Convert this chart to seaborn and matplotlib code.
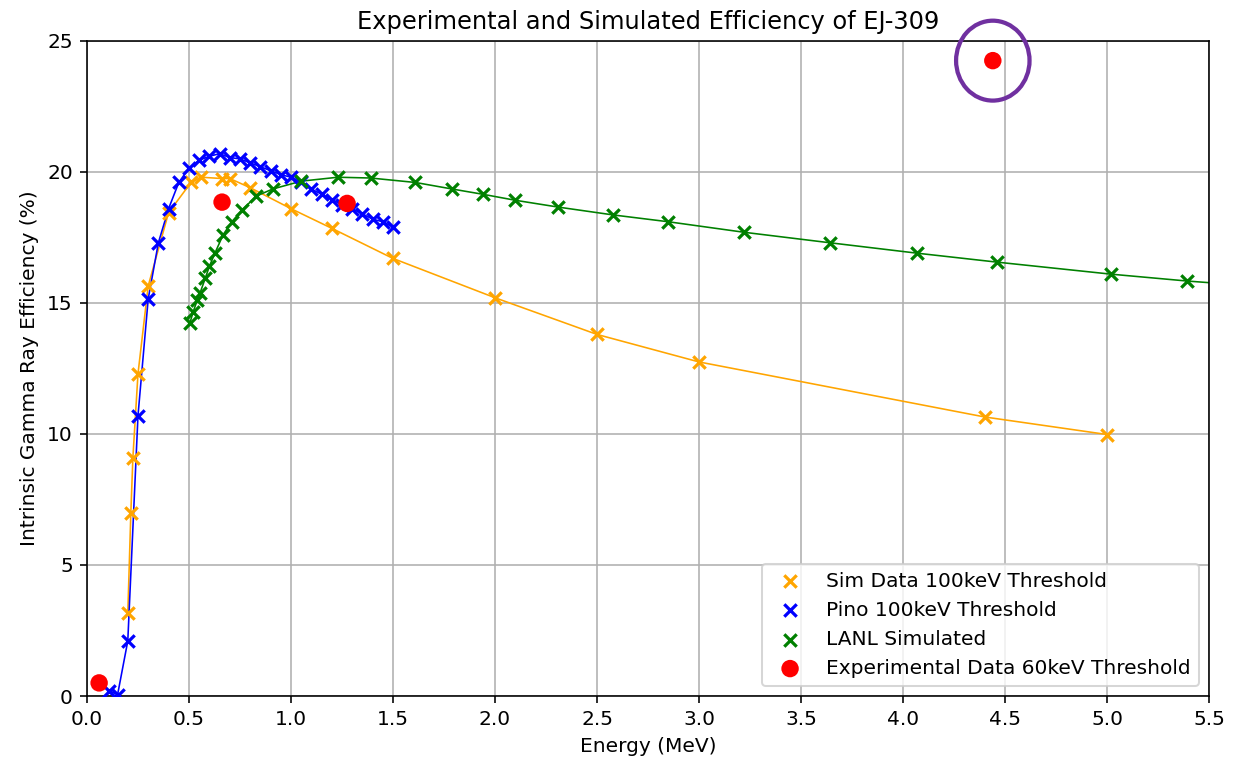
import numpy as np
import pandas as pd
import matplotlib
matplotlib.use("Agg")
import matplotlib.pyplot as plt
import seaborn as sns
from matplotlib.patches import Ellipse

# Sim Data 100keV threshold
sim_e = [0.20, 0.215, 0.225, 0.25, 0.30, 0.40, 0.51, 0.56, 0.662, 0.70, 0.80,
         1.0, 1.2, 1.5, 2.0, 2.5, 3.0, 4.4, 5.0]
sim_eff = [3.15, 7.0, 9.1, 12.3, 15.65, 18.45, 19.6, 19.8, 19.75, 19.75, 19.4,
           18.6, 17.85, 16.7, 15.2, 13.8, 12.75, 10.65, 9.98]

# Pino 100keV threshold
pino_e = [0.11, 0.15, 0.20, 0.25, 0.30, 0.35, 0.40, 0.45, 0.50, 0.55, 0.60, 0.65,
          0.70, 0.75, 0.80, 0.85, 0.90, 0.95, 1.00, 1.05, 1.10, 1.15, 1.20, 1.25,
          1.30, 1.35, 1.40, 1.45, 1.50]
pino_eff = [0.2, 0.05, 2.1, 10.7, 15.15, 17.3, 18.6, 19.6, 20.15, 20.45, 20.6, 20.7,
            20.55, 20.5, 20.35, 20.2, 20.05, 19.9, 19.8, 19.6, 19.35, 19.15, 18.95, 18.75,
            18.6, 18.4, 18.2, 18.1, 17.9]

# LANL simulated
lanl_e = [0.505, 0.52, 0.54, 0.555, 0.58, 0.60, 0.627, 0.667, 0.71, 0.76, 0.83,
          0.91, 1.05, 1.23, 1.39, 1.61, 1.79, 1.94, 2.10, 2.31, 2.58, 2.85, 3.22,
          3.64, 4.07, 4.46, 5.02, 5.39, 5.80]
lanl_eff = [14.25, 14.65, 15.1, 15.4, 15.95, 16.4, 16.9, 17.6, 18.1, 18.55, 19.08,
            19.35, 19.65, 19.8, 19.77, 19.6, 19.35, 19.15, 18.92, 18.66, 18.36, 18.1, 17.7,
            17.3, 16.9, 16.56, 16.1, 15.84, 15.6]

# Experimental data 60keV threshold
exp_e = [0.0595, 0.662, 1.275, 4.44]
exp_eff = [0.5, 18.85, 18.8, 24.25]

DPI = 145
fig, ax = plt.subplots(figsize=(1248 / DPI, 759 / DPI), dpi=DPI)
fig.subplots_adjust(left=0.0697, right=0.9688, top=0.946, bottom=0.083)

series = [
    (sim_e, sim_eff, "orange", "Sim Data 100keV Threshold"),
    (pino_e, pino_eff, "blue", "Pino 100keV Threshold"),
    (lanl_e, lanl_eff, "green", "LANL Simulated"),
]
for xs, ys, col, lab in series:
    sns.lineplot(x=xs, y=ys, color=col, linewidth=0.8, ax=ax, label="_nolegend_")
    sns.scatterplot(x=xs, y=ys, color=col, marker="x", s=38, linewidth=1.6,
                    ax=ax, label=lab, zorder=3)

sns.scatterplot(x=exp_e, y=exp_eff, color="red", s=75, edgecolor="none",
                ax=ax, label="Experimental Data 60keV Threshold", zorder=4)

# highlight the 4.44 MeV point
ax.add_patch(Ellipse((4.44, 24.25), width=0.36, height=3.05, fill=False,
                     edgecolor="#7030a0", linewidth=2.1, clip_on=False, zorder=5))

ax.set_xlim(0, 5.5)
ax.set_ylim(0, 25)
ax.set_xticks(np.arange(0, 5.51, 0.5))
ax.set_yticks(np.arange(0, 26, 5))
ax.grid(True)
ax.set_axisbelow(True)
ax.set_xlabel("Energy (MeV)")
ax.set_ylabel("Intrinsic Gamma Ray Efficiency (%)")
ax.set_title("Experimental and Simulated Efficiency of EJ-309")
ax.legend(loc="lower right")

fig.savefig("out.png", dpi=DPI)
